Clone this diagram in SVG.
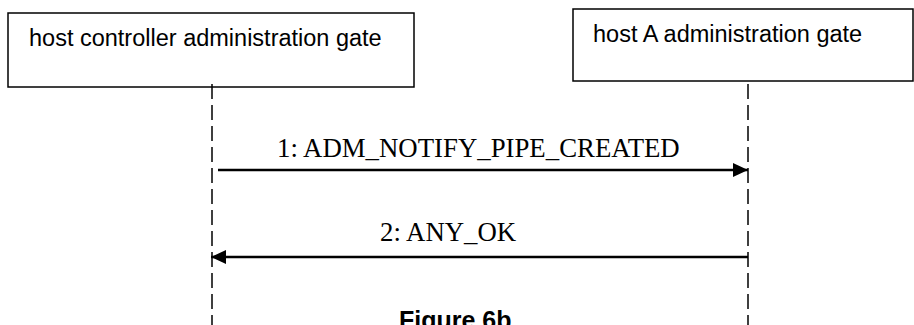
<svg xmlns="http://www.w3.org/2000/svg" width="914" height="325" viewBox="0 0 914 325">
<style>
.box{fill:#fff;stroke:#000;stroke-width:1.5}
.lbl{font-family:"Liberation Sans",Arial,sans-serif;font-size:23.5px;fill:#000}
.msg{font-family:"Liberation Serif","Times New Roman",serif;font-size:26.8px;fill:#000}
.life{stroke:#000;stroke-width:1.5;stroke-dasharray:15 6;fill:none}
.arr{stroke:#000;stroke-width:2.5;fill:none}
.cap{font-family:"Liberation Sans",Arial,sans-serif;font-size:25px;font-weight:bold;fill:#000}
</style>
<defs>
<marker id="ah" markerWidth="16" markerHeight="14" refX="15" refY="7" orient="auto" markerUnits="userSpaceOnUse">
<path d="M0,0 L15,7 L0,14 Z" fill="#000"/>
</marker>
</defs>
<rect width="914" height="325" fill="#fff"/>
<g id="hc-gate">
<rect class="box" x="8" y="13" width="406" height="74"/>
<text class="lbl" x="29" y="46">host controller administration gate</text>
</g>
<g id="hostA-gate">
<rect class="box" x="573" y="9" width="340" height="72"/>
<text class="lbl" x="593" y="42">host A administration gate</text>
</g>
<g id="connectors">
<line class="life" x1="212" y1="84" x2="212" y2="325"/>
<line class="life" x1="748" y1="84" x2="748" y2="325"/>
<line class="arr" x1="218" y1="170" x2="748" y2="170" marker-end="url(#ah)"/>
<line class="arr" x1="748" y1="257" x2="211" y2="257" marker-end="url(#ah)"/>
<text class="msg" x="277" y="157">1: ADM_NOTIFY_PIPE_CREATED</text>
<text class="msg" x="380" y="241">2: ANY_OK</text>
</g>
<text class="cap" x="399" y="329">Figure 6b</text>
</svg>
